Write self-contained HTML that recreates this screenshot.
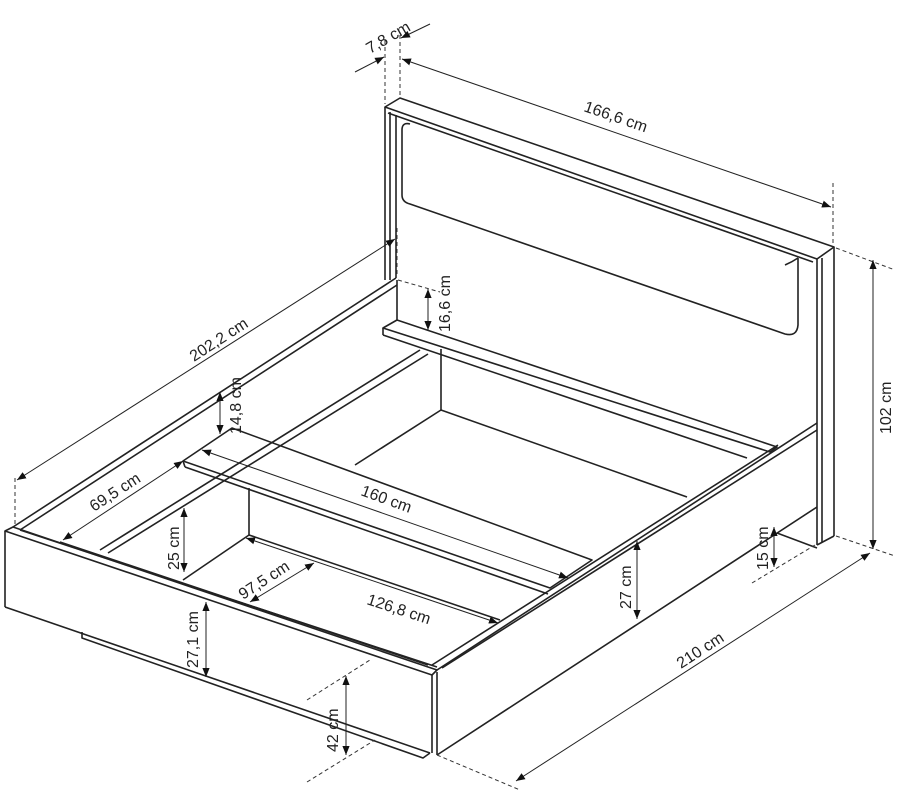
<!DOCTYPE html>
<html><head><meta charset="utf-8"><style>
html,body{margin:0;padding:0;background:#fff}
svg{display:block}
text{font-family:"Liberation Sans",sans-serif;font-size:16px;fill:#222}
</style></head><body>
<svg width="901" height="795" viewBox="0 0 901 795" xmlns="http://www.w3.org/2000/svg">
<defs>
<marker id="a" viewBox="0 0 10 10" refX="10" refY="5" markerWidth="9" markerHeight="9" orient="auto-start-reverse" markerUnits="userSpaceOnUse"><path d="M0,1 L10,5 L0,9 z" fill="#111"/></marker>
</defs>
<g stroke="#222" stroke-width="1.6" fill="none" stroke-linejoin="round">
<path d="M385,107 L400,98 L834,247 L817,259 Z"/>
<line x1="388" y1="113" x2="813" y2="262"/>
<line x1="385" y1="107" x2="385" y2="280"/>
<line x1="390" y1="112" x2="390" y2="280"/>
<line x1="396" y1="115" x2="396" y2="278"/>
<line x1="817" y1="259" x2="817" y2="545"/>
<line x1="822" y1="258" x2="822" y2="542"/>
<line x1="834" y1="247" x2="834" y2="536"/>
<line x1="817" y1="545" x2="834" y2="536"/>
<path d="M402,130 Q402,122 410,124 M402,130 L402,195 Q402,202 410,204 L785,334 Q797,337 798,325 L798,258 M798,258 Q792,262 785,265"/>
<path d="M383,328 L397,320 L777,447 L770,452 Z"/>
<line x1="383" y1="335" x2="747" y2="458"/>
<line x1="383" y1="328" x2="383" y2="335"/>
<line x1="397" y1="280" x2="397" y2="320"/>
<line x1="441" y1="349" x2="441" y2="410"/>
<line x1="441" y1="410" x2="687" y2="497"/>
<line x1="441" y1="410" x2="355" y2="465"/>
<line x1="13" y1="527" x2="396" y2="278"/>
<line x1="20" y1="530" x2="397" y2="285"/>
<line x1="100" y1="550" x2="420" y2="350"/>
<line x1="108" y1="553" x2="428" y2="354"/>
<path d="M5,531 L13,527 L437,670 L432,675 Z"/>
<line x1="20" y1="530" x2="437" y2="667"/>
<line x1="60" y1="542" x2="428" y2="665"/>
<line x1="5" y1="531" x2="5" y2="607"/>
<line x1="5" y1="607" x2="430" y2="753"/>
<line x1="432" y1="675" x2="432" y2="753"/>
<line x1="437" y1="672" x2="437" y2="755"/>
<path d="M82,632 L82,638 L423,758 L430,753"/>
<line x1="437" y1="670" x2="817" y2="423"/>
<line x1="442" y1="668" x2="817" y2="430"/>
<line x1="432" y1="665" x2="778" y2="445"/>
<line x1="437" y1="755" x2="817" y2="507"/>
<line x1="777" y1="533" x2="817" y2="548"/>
<path d="M183,461 L232,428 L592,560 L550,588 Z"/>
<line x1="185" y1="467" x2="548" y2="594"/>
<line x1="183" y1="461" x2="185" y2="467"/>
<line x1="249" y1="488" x2="249" y2="535"/>
<line x1="249" y1="535" x2="500" y2="620"/>
<line x1="249" y1="535" x2="183" y2="580"/>
</g>
<g stroke="#333" stroke-width="1" stroke-dasharray="4,3" fill="none">
<line x1="385" y1="40" x2="385" y2="104"/>
<line x1="400" y1="35" x2="400" y2="97"/>
<line x1="833" y1="183" x2="833" y2="245"/>
<line x1="836" y1="248" x2="895" y2="270"/>
<line x1="836" y1="536" x2="895" y2="556"/>
<line x1="15" y1="478" x2="15" y2="525"/>
<line x1="397" y1="228" x2="397" y2="275"/>
<line x1="398" y1="280" x2="440" y2="292"/>
<line x1="307" y1="700" x2="370" y2="660"/>
<line x1="307" y1="782" x2="375" y2="740"/>
<line x1="437" y1="755" x2="520" y2="790"/>
<line x1="752" y1="583" x2="815" y2="545"/>
</g>
<g stroke="#222" stroke-width="1" fill="none">
<line x1="355" y1="72" x2="384" y2="57" marker-end="url(#a)"/>
<line x1="430" y1="24" x2="401" y2="38" marker-end="url(#a)"/>
<line x1="402" y1="59" x2="831" y2="207" marker-start="url(#a)" marker-end="url(#a)"/>
<line x1="873" y1="260" x2="873" y2="549" marker-start="url(#a)" marker-end="url(#a)"/>
<line x1="17" y1="480" x2="395" y2="239" marker-start="url(#a)" marker-end="url(#a)"/>
<line x1="428" y1="289" x2="428" y2="330" marker-start="url(#a)" marker-end="url(#a)"/>
<line x1="220" y1="392" x2="220" y2="434" marker-start="url(#a)" marker-end="url(#a)"/>
<line x1="63" y1="540" x2="183" y2="461" marker-start="url(#a)" marker-end="url(#a)"/>
<line x1="184" y1="508" x2="184" y2="572" marker-start="url(#a)" marker-end="url(#a)"/>
<line x1="202" y1="450" x2="568" y2="578" marker-start="url(#a)" marker-end="url(#a)"/>
<line x1="246" y1="538" x2="498" y2="623" marker-start="url(#a)" marker-end="url(#a)"/>
<line x1="250" y1="602" x2="314" y2="563" marker-start="url(#a)" marker-end="url(#a)"/>
<line x1="206" y1="602" x2="206" y2="677" marker-start="url(#a)" marker-end="url(#a)"/>
<line x1="637" y1="541" x2="637" y2="619" marker-start="url(#a)" marker-end="url(#a)"/>
<line x1="774" y1="527" x2="774" y2="567" marker-start="url(#a)" marker-end="url(#a)"/>
<line x1="346" y1="676" x2="346" y2="755" marker-start="url(#a)" marker-end="url(#a)"/>
<line x1="516" y1="781" x2="870" y2="553" marker-start="url(#a)" marker-end="url(#a)"/>
</g>
<text transform="translate(370,54) rotate(-30)">7,8 cm</text>
<text transform="translate(583,111) rotate(19)">166,6 cm</text>
<text transform="translate(891,434) rotate(-90)">102 cm</text>
<text transform="translate(194,362) rotate(-33)">202,2 cm</text>
<text transform="translate(450,332) rotate(-90)">16,6 cm</text>
<text transform="translate(241,434) rotate(-90)">14,8 cm</text>
<text transform="translate(94,512) rotate(-33)">69,5 cm</text>
<text transform="translate(179,570) rotate(-90)">25 cm</text>
<text transform="translate(360,495) rotate(20)">160 cm</text>
<text transform="translate(366,604) rotate(18)">126,8 cm</text>
<text transform="translate(243,600) rotate(-33)">97,5 cm</text>
<text transform="translate(198,668) rotate(-90)">27,1 cm</text>
<text transform="translate(631,609) rotate(-90)">27 cm</text>
<text transform="translate(768,570) rotate(-90)">15 cm</text>
<text transform="translate(338,752) rotate(-90)">42 cm</text>
<text transform="translate(681,669) rotate(-33)">210 cm</text>
</svg>
</body></html>
